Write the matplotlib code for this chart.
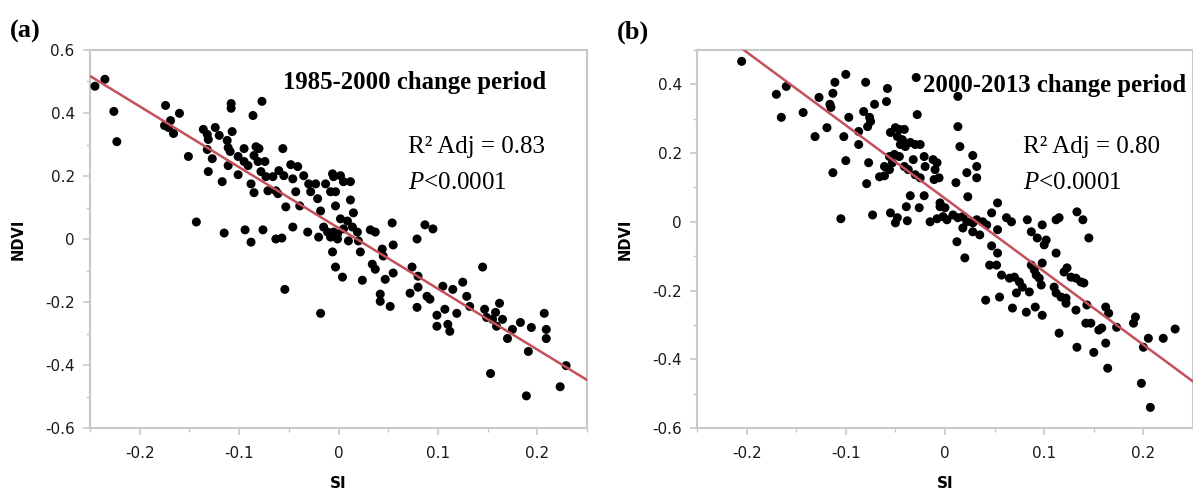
import numpy as np
import matplotlib
matplotlib.use("Agg")
import matplotlib.pyplot as plt
from matplotlib.ticker import MultipleLocator, FuncFormatter

# ---- data ----
si_a = [-0.245, -0.235, -0.226, -0.223, -0.174, -0.160, -0.169, -0.175, -0.171, -0.166,
        -0.151, -0.143, -0.136, -0.132, -0.124, -0.120, -0.131, -0.132, -0.127, -0.131,
        -0.117, -0.115, -0.108, -0.108, -0.107, -0.112, -0.111, -0.109, -0.111, -0.101,
        -0.101, -0.095, -0.095, -0.091, -0.086, -0.077, -0.094, -0.088, -0.076, -0.088,
        -0.085, -0.083, -0.080, -0.085, -0.081, -0.074, -0.078, -0.073, -0.066, -0.071,
        -0.063, -0.056, -0.060, -0.055, -0.061, -0.053, -0.063, -0.057, -0.048, -0.046,
        -0.041, -0.043, -0.046, -0.039, -0.035, -0.031, -0.030, -0.028, -0.023, -0.021,
        -0.018, -0.020, -0.013, -0.015, -0.008, -0.006, -0.011, -0.008, -0.003, -0.006,
        -0.001, -0.054, -0.018,
        -0.005, 0.002, 0.005, 0.012, -0.003, 0.012, 0.015, 0.054, 0.002, 0.009,
        0.005, 0.014, 0.019, -0.005, -0.001, 0.010, 0.020, 0.022, 0.032, 0.037,
        0.055, 0.044, 0.045, 0.034, 0.037, -0.003, 0.004, 0.024, 0.047, 0.055,
        0.042, 0.042, 0.052, 0.074, 0.080, 0.079, 0.087, 0.095, 0.072, 0.080,
        0.089, 0.092, 0.079, 0.105, 0.115, 0.125, 0.107, 0.119, 0.099, 0.099,
        0.110, 0.112, 0.129, 0.132, 0.145, 0.147, 0.149, 0.155, 0.158, 0.162,
        0.165, 0.159, 0.175, 0.183, 0.194, 0.170, 0.207, 0.209, 0.209, 0.191,
        0.153, 0.189, 0.223, 0.229]
ndvi_a = [0.485, 0.507, 0.405, 0.309, 0.424, 0.399, 0.376, 0.360, 0.354, 0.335,
          0.262, 0.054, 0.348, 0.332, 0.354, 0.329, 0.316, 0.284, 0.255, 0.214,
          0.182, 0.019, 0.430, 0.415, 0.341, 0.313, 0.290, 0.278, 0.233, 0.262,
          0.204, 0.287, 0.246, 0.233, 0.392, 0.437, 0.029, -0.010, 0.029, 0.175,
          0.147, 0.293, 0.287, 0.265, 0.246, 0.246, 0.214, 0.198, 0.198, 0.153,
          0.153, 0.287, 0.217, 0.201, 0.144, 0.102, 0.000, 0.003, 0.236, 0.191,
          0.230, 0.150, 0.038, 0.105, 0.201, 0.022, 0.175, 0.150, 0.175, 0.128,
          0.089, 0.006, 0.175, 0.038, 0.150, 0.207, 0.022, 0.006, 0.105, -0.041,
          0.016, -0.160, -0.236,
          0.198, 0.201, 0.182, 0.182, 0.150, 0.124, 0.083, 0.051, 0.064, 0.057,
          0.032, 0.038, 0.022, 0.022, 0.000, -0.006, -0.006, -0.041, 0.029, 0.022,
          -0.019, -0.032, -0.054, -0.080, -0.096, -0.089, -0.121, -0.131, -0.128, -0.108,
          -0.175, -0.198, -0.214, -0.089, -0.118, 0.000, 0.045, 0.032, -0.172, -0.153,
          -0.182, -0.191, -0.217, -0.150, -0.160, -0.137, -0.223, -0.236, -0.242, -0.277,
          -0.271, -0.293, -0.182, -0.214, -0.089, -0.223, -0.249, -0.255, -0.233, -0.204,
          -0.255, -0.277, -0.287, -0.265, -0.281, -0.316, -0.236, -0.287, -0.316, -0.357,
          -0.427, -0.498, -0.469, -0.402]

si_b = [-0.205, -0.170, -0.160, -0.165, -0.143, -0.131, -0.127, -0.119,
        -0.116, -0.113, -0.111, -0.115, -0.113, -0.105, -0.100, -0.097, -0.102, -0.100,
        -0.087, -0.087, -0.080, -0.082, -0.076, -0.075, -0.078, -0.077, -0.079, -0.073,
        -0.071, -0.058, -0.059,
        -0.055, -0.050, -0.046, -0.041, -0.048, -0.043,
        -0.045, -0.040, -0.035, -0.030, -0.025, -0.029, -0.028,
        -0.056, -0.051, -0.046, -0.053, -0.061, -0.056, -0.066, -0.061,
        -0.041, -0.037, -0.032, -0.030, -0.025, -0.021, -0.020,
        -0.012, -0.008, -0.010, -0.006, -0.011, -0.035, -0.021, -0.039, -0.026,
        -0.055, -0.048, -0.050, -0.038, -0.015, -0.008, -0.002, 0.002, -0.005,
        0.013, 0.013, 0.015, 0.028, 0.032, 0.022, 0.032, 0.011, 0.023,
        0.008, 0.013, 0.018, 0.022, 0.028, 0.032, 0.038, 0.042, 0.018, 0.028,
        0.035, 0.047, 0.053, 0.053, 0.062, 0.067,
        0.083, 0.087, 0.093, 0.098, 0.102, 0.100, 0.112, 0.115,
        0.133, 0.139, 0.145, -0.005, 0.000, 0.012, 0.020,
        0.047, 0.053, 0.045, 0.052, 0.057, 0.065, 0.070, 0.075, 0.078, 0.072,
        0.085, 0.041, 0.055, 0.068, 0.082, 0.091, 0.098,
        0.087, 0.090, 0.092, 0.095, 0.098, 0.097, 0.112,
        0.110, 0.112, 0.117, 0.122, 0.120, 0.123, 0.127, 0.132, 0.137, 0.140,
        0.122, 0.132, 0.115, 0.133, 0.150,
        0.142, 0.147, 0.155, 0.158, 0.162, 0.165, 0.162, 0.173, 0.164,
        0.192, 0.190, 0.200, 0.205, 0.220, 0.232, 0.198, 0.207, 0.143]
ndvi_b = [0.467, 0.371, 0.394, 0.304, 0.318, 0.248, 0.362, 0.274,
          0.342, 0.374, 0.406, 0.333, 0.143, 0.009, 0.429, 0.304, 0.248, 0.178,
          0.263, 0.225, 0.406, 0.321, 0.304, 0.292, 0.277, 0.172, 0.111, 0.020,
          0.342, 0.388, 0.350,
          0.260, 0.274, 0.269, 0.269, 0.248, 0.239,
          0.225, 0.219, 0.231, 0.225, 0.225, 0.420, 0.312,
          0.190, 0.196, 0.190, 0.172, 0.161, 0.152, 0.131, 0.134,
          0.161, 0.152, 0.181, 0.137, 0.128, 0.190, 0.161,
          0.181, 0.172, 0.152, 0.128, 0.123, 0.076, 0.076, 0.044, 0.041,
          0.026, 0.012, -0.003, 0.003, 0.000, 0.009, 0.015, 0.006, 0.055,
          0.365, 0.277, 0.219, 0.193, 0.161, 0.143, 0.128, 0.114, 0.073,
          0.020, 0.012, 0.015, 0.000, -0.003, 0.006, 0.000, -0.009, -0.018, -0.029,
          -0.038, 0.026, 0.055, -0.023, 0.012, 0.000,
          0.006, -0.029, -0.047, -0.009, -0.053, -0.067, 0.006, 0.012,
          0.029, 0.006, -0.047, 0.044, 0.041, -0.058, -0.105,
          -0.070, -0.091, -0.126, -0.126, -0.155, -0.164, -0.161, -0.175, -0.190, -0.207,
          -0.204, -0.228, -0.219, -0.251, -0.263, -0.248, -0.272,
          -0.126, -0.140, -0.155, -0.164, -0.120, -0.184, -0.091,
          -0.190, -0.207, -0.219, -0.222, -0.146, -0.134, -0.161, -0.164, -0.175, -0.178,
          -0.237, -0.257, -0.324, -0.365, -0.380,
          -0.295, -0.295, -0.315, -0.309, -0.248, -0.266, -0.353, -0.307, -0.426,
          -0.277, -0.295, -0.365, -0.339, -0.339, -0.312, -0.470, -0.540, -0.242]

# fitted lines (slope, intercept)
fit_a = (-1.93, 0.035)
fit_b = (-2.13, 0.068)

periods = ["1985-2000 change period", "2000-2013 change period"]
r2_adj = ["0.83", "0.80"]
panel_tags = ["(a)", "(b)"]

plt.rcParams['mathtext.fontset'] = 'custom'
plt.rcParams['mathtext.rm'] = 'Liberation Serif'
plt.rcParams['mathtext.it'] = 'Liberation Serif:italic'

W, H = 1193, 497
fig = plt.figure(figsize=(W / 100, H / 100), dpi=100)
ax_a = fig.add_axes([90 / W, 1 - 428 / H, 497 / W, 378 / H])
ax_b = fig.add_axes([697 / W, 1 - 428 / H, 496 / W, 378 / H])

spine_col = '#c8c8c8'


def fmt(v, pos):
    if abs(v) < 1e-9:
        return '0'
    return ('%.1f' % v).replace('\u2212', '-')


panels = [
    (ax_a, si_a, ndvi_a, fit_a, (-0.6, 0.6), 0, 0.388, 0.913, 0.640),
    (ax_b, si_b, ndvi_b, fit_b, (-0.6, 0.5), 1, 0.456, 0.907, 0.657),
]

for ax, xs, ys, fit, ylim, k, tx, ty, rx in panels:
    ax.scatter(xs, ys, s=42, c='black', edgecolors='none', zorder=3)
    ax.axline((0, fit[1]), slope=fit[0], color='#c4505c', lw=1.8, zorder=4)
    ax.set_xlim(-0.25, 0.25)
    ax.set_ylim(*ylim)

    for s in ax.spines.values():
        s.set_color(spine_col)
        s.set_linewidth(1.5)

    ax.xaxis.set_major_locator(MultipleLocator(0.1))
    ax.xaxis.set_minor_locator(MultipleLocator(0.05))
    ax.yaxis.set_major_locator(MultipleLocator(0.2))
    ax.yaxis.set_minor_locator(MultipleLocator(0.1))
    ax.xaxis.set_major_formatter(FuncFormatter(fmt))
    ax.yaxis.set_major_formatter(FuncFormatter(fmt))
    ax.tick_params(which='major', length=5, width=1.2, color=spine_col,
                   labelsize=11, labelcolor='#1a1a1a', pad=6)
    ax.tick_params(axis='x', which='major', pad=8)
    ax.tick_params(which='minor', length=3, width=1.0, color=spine_col)

    ax.set_ylabel('NDVI', fontsize=10.5, fontweight='bold')
    ax.yaxis.set_label_coords(-0.130, 0.5)
    ax.set_xlabel('SI', fontsize=11, fontweight='bold')
    ax.xaxis.set_label_coords(0.5, -0.128)

    ax.text(tx, ty, periods[k], transform=ax.transAxes, fontsize=17.8,
            fontweight='bold', family='Liberation Serif', va='center', ha='left')
    ax.text(rx, 0.743, 'R\u00b2 Adj = ' + r2_adj[k], transform=ax.transAxes,
            fontsize=18, family='Liberation Serif', va='center', ha='left')
    ax.text(rx, 0.648, r'$\mathit{P}$<0.0001', transform=ax.transAxes,
            fontsize=18, family='Liberation Serif', va='center', ha='left')

fig.text(10 / W, 1 - 31 / H, panel_tags[0], fontsize=19, fontweight='bold',
         family='Liberation Serif', va='center', ha='left')
fig.text(617 / W, 1 - 32 / H, panel_tags[1], fontsize=19, fontweight='bold',
         family='Liberation Serif', va='center', ha='left')

fig.savefig('out.png', dpi=100)
